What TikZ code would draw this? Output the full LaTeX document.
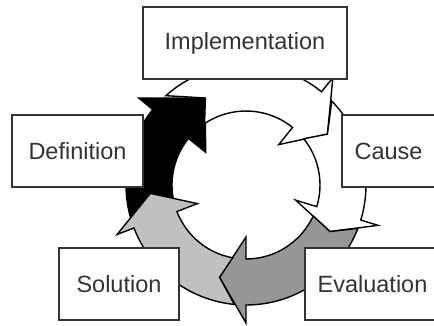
\documentclass[tikz,border=0pt]{standalone}
\usepackage{fontspec}
\setmainfont{Liberation Sans}

\definecolor{darkgrey}{RGB}{150,150,150}
\definecolor{lightgrey}{RGB}{192,192,192}

\begin{document}
\begin{tikzpicture}[x=1pt, y=1pt,
    stage/.style={draw=black!80, line width=1.6pt, fill=white, minimum height=72pt,
      inner sep=0pt, text=black!80, font=\fontsize{23.5}{28}\selectfont},
    ring/.style={draw=black, line width=1.4pt, line join=miter}]

    \useasboundingbox (0,0) rectangle (434,326);

    % Draw cycle arrows
    \begin{scope}[shift={(246,141)}]
      \foreach \tone/\head/\point/\prevhead/\prevpoint in {black/141/115/201/185, white/51/32/141/115, white/-17/-29/51/32, darkgrey/-90/-106/-17/-29, lightgrey/-159/-175/-90/-106} {
        \pgfmathsetmacro\tailout{\prevhead-0.35*(\prevhead-\prevpoint)}
        \pgfmathsetmacro\tailin{\prevhead-0.65*(\prevhead-\prevpoint)}
        \filldraw[ring, fill=\tone] (\tailout:120) arc[start angle=\tailout, end angle=\head, radius=120]
          -- (\head:138) -- (\point:96) -- (\head:52) -- (\head:74)
          arc[start angle=\head, end angle=\tailin, radius=74] -- (\prevpoint:96) -- cycle;
      }
    \end{scope}

    % Draw stage boxes
    \node[stage, minimum width=204pt] (impl) at (245,283) {Implementation};
    \node[stage, minimum width=131pt] (defn) at (77.5,175) {Definition};
    \node[stage, minimum width=93pt] (cause) at (388.5,175) {Cause};
    \node[stage, minimum width=135pt] (eval) at (372.5,42) {Evaluation};
    \node[stage, minimum width=120pt] (soln) at (119,42) {Solution};

  \end{tikzpicture}
\end{document}
